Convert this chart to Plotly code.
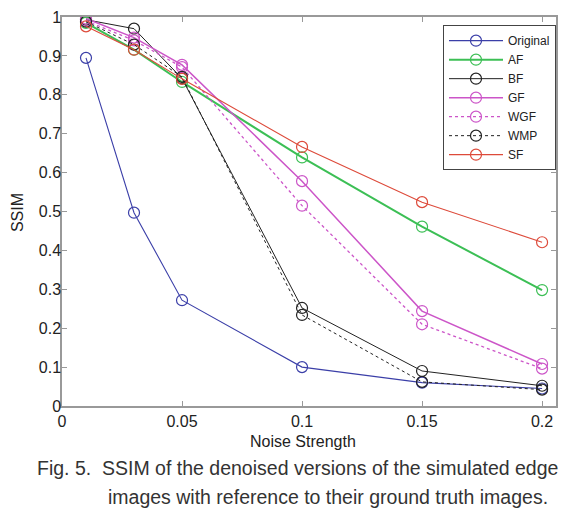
import plotly.graph_objects as go

noise = [0.01, 0.03, 0.05, 0.1, 0.15, 0.2]
original = [0.895, 0.497, 0.272, 0.100, 0.060, 0.045]
af = [0.985, 0.916, 0.833, 0.639, 0.461, 0.298]
bf = [0.993, 0.970, 0.842, 0.252, 0.090, 0.052]
gf = [0.996, 0.947, 0.877, 0.578, 0.244, 0.108]
wgf = [0.990, 0.940, 0.871, 0.515, 0.210, 0.096]
wmp = [0.988, 0.929, 0.846, 0.234, 0.062, 0.042]
sf = [0.976, 0.916, 0.841, 0.666, 0.524, 0.421]

x_ticks = [0, 0.05, 0.1, 0.15, 0.2]
x_tick_labels = ["0", "0.05", "0.1", "0.15", "0.2"]
y_ticks = [0, 0.1, 0.2, 0.3, 0.4, 0.5, 0.6, 0.7, 0.8, 0.9, 1]
y_tick_labels = ["0", "0.1", "0.2", "0.3", "0.4", "0.5", "0.6", "0.7", "0.8", "0.9", "1"]

series = [
    ("Original", original, "#3b3fa8", 1.1, "solid"),
    ("AF", af, "#3cbf55", 2.0, "solid"),
    ("BF", bf, "#222222", 1.0, "solid"),
    ("GF", gf, "#cc55c8", 1.5, "solid"),
    ("WGF", wgf, "#cc55c8", 1.3, "3px,3px"),
    ("WMP", wmp, "#222222", 1.0, "3px,3px"),
    ("SF", sf, "#dd4a3a", 1.1, "solid"),
]

fig = go.Figure()
for name, vals, color, w, dash in series:
    fig.add_trace(go.Scatter(
        x=noise, y=vals, name=name, mode="lines+markers",
        line=dict(color=color, width=w, dash=dash),
        marker=dict(symbol="circle-open", size=11, color=color, line=dict(width=1.2, color=color)),
    ))

font = "Liberation Sans, Arial, sans-serif"
fig.update_layout(
    width=579, height=530,
    margin=dict(l=62, r=23, t=17, b=124),
    paper_bgcolor="white", plot_bgcolor="white",
    font=dict(family=font, size=15, color="#222"),
    showlegend=True,
    legend=dict(
        x=1.0, y=0.979, xanchor="right", yanchor="top",
        bordercolor="#444", borderwidth=1, bgcolor="white",
        font=dict(size=12, color="#222"), tracegroupgap=0,
        itemwidth=54,
    ),
    xaxis=dict(
        range=[0, 0.2058], tickvals=x_ticks, ticktext=x_tick_labels,
        showline=True, linecolor="#999", linewidth=1.5, mirror="ticks",
        ticks="inside", ticklen=5, tickcolor="#999",
        showgrid=False, zeroline=False, automargin=False,
        tickfont=dict(size=16),
    ),
    yaxis=dict(
        range=[0, 1], tickvals=y_ticks, ticktext=y_tick_labels,
        showline=True, linecolor="#999", linewidth=1.5, mirror="ticks",
        ticks="inside", ticklen=5, tickcolor="#999",
        showgrid=False, zeroline=False, automargin=False,
        tickfont=dict(size=16), ticklabelstandoff=-4,
    ),
)

fig.add_annotation(
    text="SSIM", textangle=-90,
    xref="paper", yref="paper", x=-0.091, y=0.496, xanchor="center", yanchor="middle",
    showarrow=False, font=dict(family=font, size=16, color="#222"),
)
fig.add_annotation(
    text="Noise Strength",
    xref="paper", yref="paper", x=0.488, y=-0.09, xanchor="center", yanchor="middle",
    showarrow=False, font=dict(family=font, size=16, color="#222"),
)
fig.add_annotation(
    text="Fig. 5.  SSIM of the denoised versions of the simulated edge",
    xref="paper", yref="paper", x=-0.054, y=-0.159, xanchor="left", yanchor="middle",
    showarrow=False, font=dict(family=font, size=19.5, color="#333"),
)
fig.add_annotation(
    text="images with reference to their ground truth images.",
    xref="paper", yref="paper", x=0.09, y=-0.234, xanchor="left", yanchor="middle",
    showarrow=False, font=dict(family=font, size=19.5, color="#333"),
)

fig.write_html("out.html", config={"displayModeBar": False},
               post_script="document.body.style.margin='0';")
